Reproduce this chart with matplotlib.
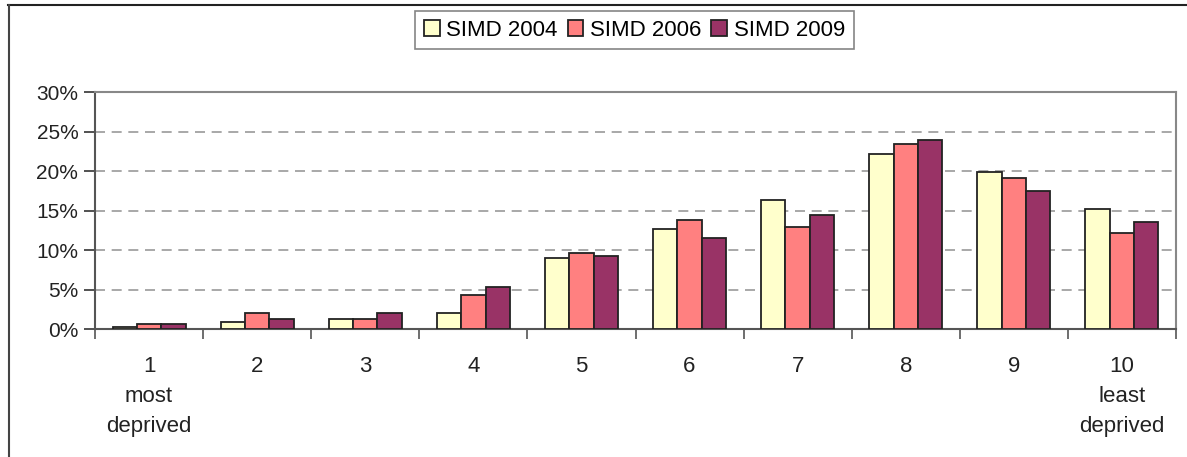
import numpy as np
import matplotlib
matplotlib.use('Agg')
import matplotlib.pyplot as plt
from matplotlib.lines import Line2D

plt.rcParams['font.family'] = ['Liberation Sans', 'DejaVu Sans']

# data (share of cases per SIMD decile, %)
deciles = ['1\nmost\ndeprived', '2', '3', '4', '5', '6', '7', '8', '9', '10\nleast\ndeprived']
simd_2004 = [0.25, 0.9, 1.3, 2.05, 9.0, 12.7, 16.4, 22.2, 19.9, 15.2]
simd_2006 = [0.65, 2.05, 1.3, 4.35, 9.65, 13.85, 12.9, 23.5, 19.15, 12.2]
simd_2009 = [0.65, 1.35, 2.05, 5.3, 9.25, 11.55, 14.5, 24.0, 17.5, 13.6]
series_labels = ['SIMD 2004', 'SIMD 2006', 'SIMD 2009']
colors = ['#FFFFCC', '#FF8080', '#993366']
yticks = [0, 5, 10, 15, 20, 25, 30]

fig = plt.figure(figsize=(11.87, 4.57), dpi=100)
ax = fig.add_axes([95/1187, 1 - 329.3/457, (1176 - 95)/1187, (329.3 - 92.3)/457])

x = np.arange(len(deciles))
w = 0.225
for i, (vals, lab, c) in enumerate(zip([simd_2004, simd_2006, simd_2009], series_labels, colors)):
    ax.bar(x + (i - 1) * w, vals, width=w, color=c, edgecolor='#222222', linewidth=1.3,
           label=lab, zorder=3)

ax.set_xlim(-0.5, len(deciles) - 0.5)
ax.set_ylim(0, 30)
ax.set_yticks(yticks)
ax.set_yticklabels(['{}%'.format(t) for t in yticks], fontsize=15, color='#222222')
for t in yticks[1:-1]:
    ax.axhline(t, color='#999999', linestyle=(0, (6, 4)), linewidth=1.2, zorder=1)

# group separator ticks on the x axis, labels centred under groups
ax.set_xticks(np.arange(-0.5, len(deciles) + 0.5, 1))
ax.set_xticklabels([])
ax.set_xticks(x, minor=True)
ax.set_xticklabels(deciles, minor=True, fontsize=16, color='#222222', linespacing=1.57)
ax.tick_params(axis='x', which='minor', length=0, pad=19)
ax.tick_params(axis='x', which='major', direction='out', length=7, color='#555555', width=1.2)
ax.tick_params(axis='y', direction='out', length=8, color='#333333', width=1.2, pad=4)

for s in ['left', 'bottom']:
    ax.spines[s].set_color('#555555')
    ax.spines[s].set_linewidth(1.5)
for s in ['top', 'right']:
    ax.spines[s].set_color('#888888')
    ax.spines[s].set_linewidth(1.5)

leg = fig.legend(loc='center', bbox_to_anchor=(634.5/1187, 1 - 30/457), ncol=3, fontsize=16,
                 frameon=True, fancybox=False, edgecolor='#666666', handlelength=0.7,
                 handleheight=0.7, handletextpad=0.3, columnspacing=0.45, borderpad=0.4,
                 borderaxespad=0)
leg.get_frame().set_linewidth(1.2)

# outer frame (top and left edges)
fig.add_artist(Line2D([8/1187, 1], [1 - 4.5/457, 1 - 4.5/457], color='#222222', linewidth=1.5))
fig.add_artist(Line2D([8.5/1187, 8.5/1187], [0, 1 - 4.5/457], color='#444444', linewidth=1.5))

fig.savefig('out.png', dpi=100)
